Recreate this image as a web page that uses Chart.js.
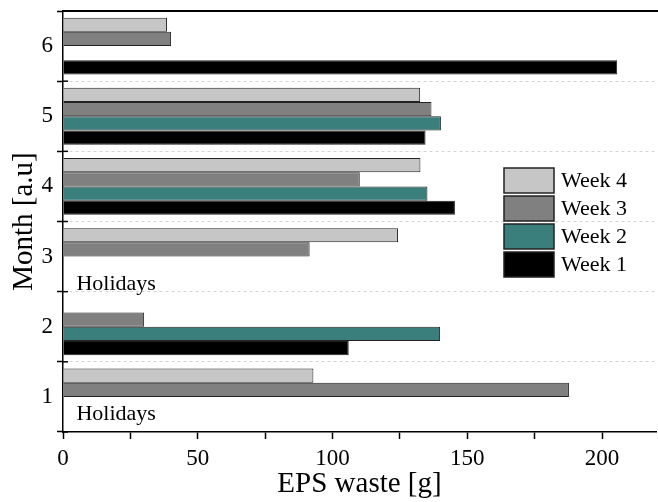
<!DOCTYPE html>
<html>
<head>
<meta charset="utf-8">
<script src="https://cdn.jsdelivr.net/npm/chart.js@4/dist/chart.umd.min.js"></script>
<style>
  body { margin: 0; background: #fff; }
  canvas { display: block; }
</style>
</head>
<body>
<canvas id="epsChart" width="658" height="502"></canvas>
<script>
// data (g of EPS waste), null = no bar
const months = ["1", "2", "3", "4", "5", "6"];
const week1 = [null, 106, null, 145.4, 134.5, 205.6];
const week2 = [null, 139.9, null, 135.2, 140.2, null];
const week3 = [187.7, 30.1, 91.5, 110.1, 136.7, 40.1];
const week4 = [92.9, null, 124.3, 132.6, 132.5, 38.6];
const xTicks = [0, 50, 100, 150, 200];
const holidayMonths = ["1", "3"];

const serif = "'Liberation Serif', 'Times New Roman', serif";

// "Holidays" notes + the top frame line
const notesPlugin = {
    id: "notes",
    afterDatasetsDraw(chart) {
        const ctx = chart.ctx;
        const x = chart.scales.x;
        const y = chart.scales.y;
        const catH = y.height / months.length;
        ctx.save();
        ctx.fillStyle = "#000";
        ctx.font = "22px " + serif;
        ctx.textBaseline = "alphabetic";
        holidayMonths.forEach(m => {
            const idx = months.indexOf(m);
            const shift = m === "3" ? 0.47 : 0.33;
            ctx.fillText("Holidays", x.getPixelForValue(5), y.getPixelForValue(idx) + catH * shift);
        });
        ctx.restore();
    },
    afterDraw(chart) {
        const ctx = chart.ctx;
        const a = chart.chartArea;
        ctx.save();
        ctx.strokeStyle = "#000";
        ctx.lineWidth = 2;
        ctx.beginPath();
        ctx.moveTo(a.left, a.top);
        ctx.lineTo(a.right + 2, a.top);
        ctx.stroke();

        // y tick marks also poke a little into the plot
        const y = chart.scales.y;
        ctx.lineWidth = 1.5;
        for (let i = 0; i <= months.length; i++) {
            const py = y.top + i * y.height / months.length;
            ctx.beginPath();
            ctx.moveTo(a.left, py);
            ctx.lineTo(a.left + 5, py);
            ctx.stroke();
        }

        // legend inside the plot
        ctx.font = "22px " + serif;
        ctx.textBaseline = "middle";
        chart.data.datasets.forEach((ds, i) => {
            const bx = 504, by = 168 + i * 28;
            ctx.fillStyle = ds.backgroundColor;
            ctx.fillRect(bx, by, 50, 25);
            ctx.strokeStyle = "#222";
            ctx.lineWidth = 1.5;
            ctx.strokeRect(bx, by, 50, 25);
            ctx.fillStyle = "#000";
            ctx.fillText(ds.label, 561, by + 13);
        });
        ctx.restore();
    }
};

new Chart(document.getElementById("epsChart"), {
    type: "bar",
    data: {
        labels: months,
        datasets: [
            { label: "Week 4", data: week4, backgroundColor: "#c6c6c6" },
            { label: "Week 3", data: week3, backgroundColor: "#808080" },
            { label: "Week 2", data: week2, backgroundColor: "#3b7f7c" },
            { label: "Week 1", data: week1, backgroundColor: "#000000" }
        ]
    },
    options: {
        indexAxis: "y",
        responsive: false,
        animation: false,
        datasets: {
            bar: {
                borderColor: "#222",
                borderWidth: 1,
                categoryPercentage: 0.81,
                barPercentage: 1
            }
        },
        layout: { padding: { top: 11, right: 2, bottom: 0, left: 0 } },
        plugins: {
            legend: { display: false },
            tooltip: { enabled: false }
        },
        scales: {
            x: {
                type: "linear",
                min: 0,
                max: 220,
                afterFit(s) { s.height = 70; s.paddingLeft = 0; s.paddingRight = 0; },
                ticks: {
                    stepSize: 25,
                    autoSkip: false,
                    includeBounds: false,
                    maxRotation: 0,
                    padding: 6,
                    color: "#000",
                    font: { family: serif, size: 23 },
                    callback: v => xTicks.includes(v) ? v : ""
                },
                grid: {
                    drawOnChartArea: false,
                    tickLength: 7,
                    tickColor: "#000",
                    tickWidth: 1.5
                },
                border: { color: "#000", width: 1.5 },
                title: {
                    display: true,
                    text: "EPS waste [g]",
                    color: "#000",
                    font: { family: serif, size: 29 },
                    padding: { top: 0, bottom: 0 }
                }
            },
            y: {
                type: "category",
                reverse: true,
                offset: true,
                afterFit(s) { s.width = 63; s.paddingTop = 0; s.paddingBottom = 0; },
                ticks: {
                    padding: 4,
                    color: "#000",
                    font: { family: serif, size: 23 }
                },
                grid: {
                    offset: true,
                    color: "#d4d4d4",
                    lineWidth: 1,
                    tickLength: 6,
                    tickColor: "#000",
                    tickWidth: 1.5
                },
                border: { color: "#000", width: 1.5, dash: [3, 3] },
                title: {
                    display: true,
                    text: "Month [a.u]",
                    color: "#000",
                    font: { family: serif, size: 29 },
                    padding: { top: 7, bottom: 0 }
                }
            }
        }
    },
    plugins: [notesPlugin]
});
</script>
</body>
</html>
